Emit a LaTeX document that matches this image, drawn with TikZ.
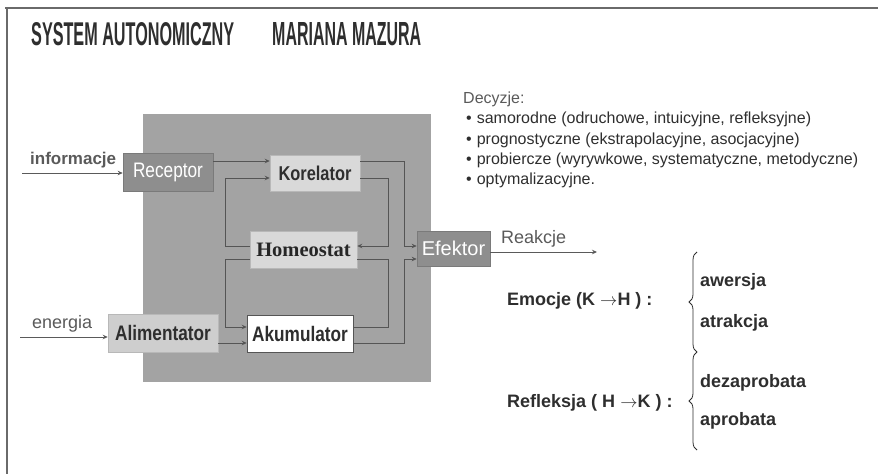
\documentclass[tikz,border=0pt]{standalone}
\usepackage{fontspec}
\setmainfont{Liberation Sans}
\newfontfamily\narrowsans[FakeStretch=0.82]{Liberation Sans}
\newfontfamily\serifface{Liberation Serif}
\usetikzlibrary{arrows.meta,decorations.pathreplacing}

\definecolor{panel}{HTML}{A3A3A3}
\definecolor{darkfill}{HTML}{8E8E8E}
\definecolor{lightfill}{HTML}{D9D9D9}
\definecolor{edge}{HTML}{7A7A7A}
\definecolor{wire}{HTML}{555555}
\definecolor{ink}{HTML}{2E2E2E}
\definecolor{softink}{HTML}{5A5A5A}
\definecolor{frame}{HTML}{6A6A6A}

\begin{document}
\begin{tikzpicture}[x=1pt,y=-1pt,
  wirel/.style={draw=wire, line width=0.9pt},
  arr/.style={wirel, -{Stealth[length=5pt,width=4.5pt]}},
  darkblk/.style={fill=darkfill, draw=edge, line width=0.6pt, inner sep=0pt,
    text=white, font=\narrowsans\fontsize{21}{21}\selectfont},
  lightblk/.style={fill=lightfill, draw=lightfill!85!black, line width=0.5pt, inner sep=0pt,
    text=ink, font=\narrowsans\bfseries\fontsize{20}{20}\selectfont},
  label/.style={inner sep=0pt, anchor=west, text height=0.72em, text depth=0.2em},
  item/.style={label, text=ink, font=\fontsize{16}{16}\selectfont},
  bold/.style={label, text=ink, font=\bfseries\fontsize{18}{18}\selectfont},
  curly/.style={draw=ink, line width=0.8pt, decorate, decoration={brace, amplitude=8pt}}]

\useasboundingbox (0,0) rectangle (878,474);

% frame of the sheet
\draw[frame, line width=1.4pt] (5,8) -- (878,8);
\draw[frame, line width=1.2pt] (7,8) -- (7,474);

% title
\node[inner sep=0pt, anchor=west, text=ink] (title1) at (31,34.5)
  {\resizebox{203pt}{23pt}{\bfseries SYSTEM AUTONOMICZNY}};
\node[inner sep=0pt, anchor=west, text=ink] (title2) at (272,34.5)
  {\resizebox{149pt}{23pt}{\bfseries MARIANA MAZURA}};

% grey body of the system
\fill[panel] (143,114) rectangle (431,382);

% blocks
\node[darkblk, minimum width=90pt, minimum height=38pt] (rec) at (168,172) {Receptor};
\node[lightblk, minimum width=90pt, minimum height=36pt] (kor) at (315,173.5) {Korelator};
\node[lightblk, minimum width=107pt, minimum height=37pt,
  font=\serifface\bfseries\fontsize{20.5}{20.5}\selectfont, text=black!85] (hom) at (303.5,249.5) {Homeostat};
\node[darkblk, minimum width=73pt, minimum height=35pt,
  font=\fontsize{20}{20}\selectfont] (efe) at (453.5,248.5) {Efektor};
\node[lightblk, fill=lightfill!95!black, minimum width=110pt, minimum height=38pt,
  font=\narrowsans\bfseries\fontsize{21}{21}\selectfont] (ali) at (163,333) {Alimentator};
\node[lightblk, fill=white, draw=wire, minimum width=106pt, minimum height=37pt,
  font=\narrowsans\bfseries\fontsize{21}{21}\selectfont] (aku) at (300,333.5) {Akumulator};

% levels and columns of the wiring
\coordinate (ytop) at (0,161);
\coordinate (ykor) at (0,178);
\coordinate (yhomA) at (0,246);
\coordinate (yhomB) at (0,259);
\coordinate (yakuA) at (0,327);
\coordinate (yakuB) at (0,343);
\coordinate (xl) at (225,0);
\coordinate (xr1) at (388,0);
\coordinate (xr2) at (404,0);

% control path
\draw[arr] (rec.east |- ytop) -- (kor.west |- ytop);
\draw[arr] (kor.east |- ytop) -- (xr2 |- ytop) -- (xr2 |- yhomA) -- (efe.west |- yhomA);
\draw[arr] (kor.east |- ykor) -- (xr1 |- ykor) -- (xr1 |- yhomA) -- (hom.east |- yhomA);
\draw[arr] (hom.west |- yhomA) -- (xl |- yhomA) -- (xl |- ykor) -- (kor.west |- ykor);

% energy path
\draw[arr] (hom.west |- yhomB) -- (xl |- yhomB) -- (xl |- yakuA) -- (aku.west |- yakuA);
\draw[arr] (ali.east |- yakuB) -- (aku.west |- yakuB);
\draw[wirel] (aku.east |- yakuA) -- (xr1 |- yakuA) -- (xr1 |- yhomB) -- (hom.east |- yhomB);
\draw[arr] (aku.east |- yakuB) -- (xr2 |- yakuB) -- (xr2 |- yhomB) -- (efe.west |- yhomB);

% inputs and output
\coordinate (inInfo) at (22,173);
\coordinate (inEnergy) at (20,337);
\coordinate (outReact) at (597,252);
\draw[arr, draw=softink] (inInfo) -- (rec.west |- inInfo);
\draw[arr, draw=softink] (inEnergy) -- (ali.west |- inEnergy);
\draw[arr, draw=softink] (efe.east |- outReact) -- (outReact);
\node[label, text=softink, font=\bfseries\fontsize{17}{17}\selectfont] (tInfo) at (30,162) {informacje};
\node[label, text=softink, font=\fontsize{18}{18}\selectfont] (tEnergy) at (32,326) {energia};
\node[label, text=softink, font=\fontsize{18}{18}\selectfont] (tReact) at (501,241) {Reakcje};

% kinds of decisions
\node[item, text=softink] (dec) at (463,101) {Decyzje:};
\node[item] (d1) at (466,121) {\textbullet\hspace{5pt}samorodne (odruchowe, intuicyjne, refleksyjne)};
\node[item] (d2) at (466,141.5) {\textbullet\hspace{5pt}prognostyczne (ekstrapolacyjne, asocjacyjne)};
\node[item] (d3) at (466,162) {\textbullet\hspace{5pt}probiercze (wyrywkowe, systematyczne, metodyczne)};
\node[item] (d4) at (466,182) {\textbullet\hspace{5pt}optymalizacyjne.};

% emotions and reflection
\node[bold] (emo) at (507,303) {Emocje (K $\rightarrow$H ) :};
\node[bold] (ref) at (507,405) {Refleksja ( H $\rightarrow$K ) :};
\draw[curly] (697,352) -- (697,252);
\draw[curly] (697,450) -- (697,352);
\node[bold] (e1) at (700,284) {awersja};
\node[bold] (e2) at (700,325) {atrakcja};
\node[bold] (r1) at (700,385) {dezaprobata};
\node[bold] (r2) at (700,423) {aprobata};

\end{tikzpicture}
\end{document}
